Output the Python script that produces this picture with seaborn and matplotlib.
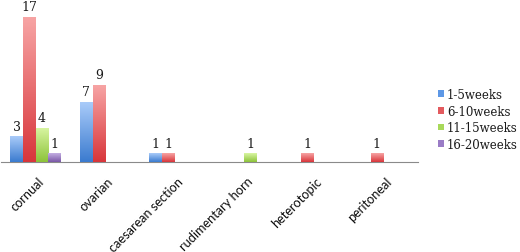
import numpy as np
import pandas as pd
import matplotlib
matplotlib.use("Agg")
import matplotlib.pyplot as plt
import matplotlib.transforms as mtrans
import seaborn as sns
from matplotlib.patches import Patch
from matplotlib.colors import LinearSegmentedColormap

categories = ['cornual', 'ovarian', 'caesarean section', 'rudimentary horn', 'heterotopic', 'peritoneal']
series = ['1-5weeks', '6-10weeks', '11-15weeks', '16-20weeks']
w1_5 = [3, 7, 1, 0, 0, 0]
w6_10 = [17, 9, 1, 0, 1, 1]
w11_15 = [4, 0, 0, 1, 0, 0]
w16_20 = [1, 0, 0, 0, 0, 0]

tops = ['#a9cbf9', '#f7a4a4', '#d9f6a3', '#c3aee2']
bottoms = ['#3b7bcf', '#d8363b', '#8dc33a', '#7a57a6']
mids = ['#5d98e6', '#e35a5e', '#a8d95a', '#9a7cc6']

rows = []
for s, vals in zip(series, [w1_5, w6_10, w11_15, w16_20]):
    for c, v in zip(categories, vals):
        rows.append({'cat': c, 'series': s, 'val': v})
df = pd.DataFrame(rows)

sns.set_style('white')
plt.rcParams['font.family'] = ['DejaVu Serif']

fig = plt.figure(figsize=(5.2, 2.53), dpi=100)
ax = fig.add_axes([1/520, 90/253, 417/520, 153.5/253])
sns.barplot(data=df, x='cat', y='val', hue='series', order=categories, hue_order=series,
            palette=mids, width=0.73, gap=0, ax=ax, legend=False, errorbar=None,
            saturation=1)

for i, cont in enumerate(ax.containers):
    cmap = LinearSegmentedColormap.from_list('g', [bottoms[i], tops[i]])
    for bar in cont:
        h = bar.get_height()
        if h <= 0:
            continue
        x, w = bar.get_x(), bar.get_width()
        grad = np.linspace(0, 1, 100).reshape(-1, 1)
        im = ax.imshow(grad, extent=(x, x + w, 0, h), origin='lower', cmap=cmap,
                       aspect='auto', zorder=3)
        im.set_clip_path(bar)
        ax.text(x + w / 2, h + 0.45, f'{int(h)}', ha='center', va='bottom',
                fontsize=9, color='#1a1a1a', zorder=4)
ax.set_ylim(0, 18)
ax.set_xlim(-0.5, len(categories) - 0.5)

for s in ['top', 'right', 'left']:
    ax.spines[s].set_visible(False)
ax.spines['bottom'].set_color('#8a8a8a')
ax.spines['bottom'].set_linewidth(0.8)
ax.set_yticks([])
ax.set_ylabel('')
ax.set_xlabel('')
ax.set_xticks(range(len(categories)))
ax.set_xticklabels(categories, rotation=45, ha='right', va='top', rotation_mode='anchor',
                   fontsize=9.2, color='#0d0d0d', family=['Lato', 'DejaVu Sans'])
ax.tick_params(axis='x', which='major', length=0, pad=9)
offset = mtrans.ScaledTranslation(2/100, 0, fig.dpi_scale_trans)
for lab in ax.get_xticklabels():
    lab.set_transform(lab.get_transform() + offset)
ax.set_xticks(np.arange(-0.5, len(categories)), minor=True)
ax.tick_params(axis='x', which='minor', length=4, color='#8a8a8a', width=0.8)

handles = [Patch(facecolor=mids[i], edgecolor='none', label=series[i]) for i in range(4)]
fig.legend(handles=handles, loc='upper left', bbox_to_anchor=(438/520, 1 - 89/253),
           frameon=False, prop={'size': 8.5}, handlelength=0.5, handleheight=0.5,
           handletextpad=0.25, labelspacing=0.3, borderaxespad=0, borderpad=0,
           labelcolor='#1a1a1a')

fig.savefig('out.png', dpi=100)
